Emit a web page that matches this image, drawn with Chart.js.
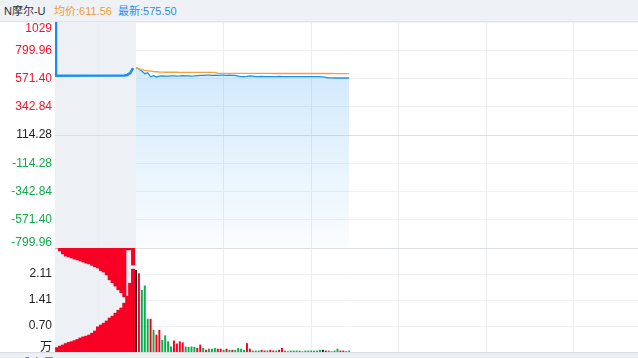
<!DOCTYPE html>
<html>
<head>
<meta charset="utf-8">
<title>N摩尔-U 分时</title>
<script src="https://cdn.jsdelivr.net/npm/chart.js"></script>
<style>
body {
  margin: 0;
  width: 638px;
  height: 358px;
  overflow: hidden;
  position: relative;
  background: #fff;
  font-family: "Liberation Sans", Arial, "Noto Sans CJK SC", sans-serif;
}
.head {
  position: absolute;
  left: 0; top: 0;
  width: 638px; height: 21px;
  background: #eef1f5;
  border-bottom: 1px solid #dfe4ea;
  font-size: 11px;
  line-height: 22px;
  white-space: nowrap;
}
.head span { position: absolute; top: 0; }
.foot {
  position: absolute;
  left: 0; top: 352px;
  width: 638px; height: 6px;
  background: #edf0f3;
  border-top: 1px solid #dadee3;
  overflow: hidden;
  font-size: 12px;
  color: #333;
}
.foot span { position: absolute; left: 19px; top: 1px; }
#c { position: absolute; left: 0; top: 22px; }
</style>
</head>
<body>
<div class="head">
  <span style="left:4px;color:#333">N摩尔-U</span>
  <span style="left:54px;color:#f39b2f">均价:611.56</span>
  <span style="left:118px;color:#2a8ef0">最新:575.50</span>
</div>
<canvas id="c" width="638" height="330"></canvas>
<div class="foot"><span>成交量</span></div>

<script>
// 价格轴 (以发行价 114.28 为中线)
const basePrice = 114.28;
const priceTicks = [1028.52, 799.96, 571.40, 342.84, 114.28, -114.28, -342.84, -571.40, -799.96];
const priceTickLabels = ['1029', '799.96', '571.40', '342.84', '114.28', '-114.28', '-342.84', '-571.40', '-799.96'];

// 成交量轴 (万)
const volMax = 2.812;
const volTicks = [2.109, 1.406, 0.703];
const volTickLabels = ['2.11', '1.41', '0.70'];

// 时间轴: 0 = 9:30 开盘, 单位分钟; 负数为集合竞价
const xMin = -27.74;
const xMax = 171.92;
const xGridLines = [-13, 30, 60, 90, 120, 150];

// 集合竞价
const prePriceTimes = [-27.6, -27.4, -4, -3, -2, -1];
const prePrice = [1028.52, 594, 596, 600, 615, 656];
const preSlots = [-27, -26, -25, -24, -23, -22, -21, -20, -19, -18, -17, -16, -15, -14,
                  -13, -12, -11, -10, -9, -8, -7, -6, -5, -4, -3, -2, -1];
const preMatched = [0.12, 0.16, 0.19, 0.23, 0.26, 0.28, 0.31, 0.34, 0.38, 0.41, 0.43, 0.46, 0.51, 0.57,
                    0.68, 0.73, 0.78, 0.84, 0.92, 0.97, 1.05, 1.13, 1.19, 1.32, 1.51, 1.86, 2.24];
const preUnmatched = [0, 0.08, 0.16, 0.22, 0.24, 0.27, 0.30, 0.32, 0.35, 0.38, 0.41, 0.43, 0.47, 0.51,
                      0.54, 0.61, 0.65, 0.73, 0.86, 0.94, 1.03, 1.13, 1.21, 1.32, 0.05, 0.05, 0.46];

// 连续竞价 (每分钟)
const tradePrice = [659, 648, 632, 610, 618, 585, 594, 584, 590, 592,
                    591, 590, 592, 593, 591, 592, 594, 593, 592, 591,
                    592, 594, 596, 597, 598, 598, 597, 598, 597, 598,
                    598, 597, 598, 597, 596, 590, 587, 587, 588, 592,
                    591, 587, 587, 588, 587, 587, 586, 587, 587, 588,
                    587, 587, 586, 587, 587, 587, 586, 587, 587, 587,
                    587, 586, 587, 586, 584, 580, 576, 576, 575.5, 575.5,
                    575.5, 575.5, 575.5, 575.5];
const avgPrice = [659, 650, 643, 638, 634, 631, 628, 626, 624, 623,
                  622, 622, 622, 622, 622, 621.5, 621.5, 621.5, 621.5, 621.5,
                  621.5, 621.5, 621.5, 621.5, 621.5, 621.5, 621.5, 621, 614, 613.5,
                  613.5, 613.5, 613.5, 613.5, 613, 613, 613, 613, 613, 613,
                  613, 612.5, 612.5, 612.5, 612.5, 612.5, 612.5, 612, 612, 612,
                  612, 612, 612, 612, 612, 612, 612, 612, 612, 612,
                  612, 612, 611.8, 611.8, 611.8, 611.8, 611.7, 611.7, 611.6, 611.6,
                  611.6, 611.6, 611.56, 611.56];
const tradeVol = [2.21, 2.12, 1.67, 1.79, 0.89, 0.89, 0.59, 0.46, 0.59, 0.32,
                  0.44, 0.28, 0.14, 0.30, 0.22, 0.28, 0.25, 0.14, 0.13, 0.14,
                  0.13, 0.10, 0.19, 0.10, 0.05, 0.08, 0.08, 0.10, 0.08, 0.08,
                  0.05, 0.08, 0.05, 0.05, 0.05, 0.10, 0.08, 0.05, 0.23, 0.08,
                  0.03, 0.03, 0.03, 0.05, 0.03, 0.03, 0.05, 0.03, 0.03, 0.05,
                  0.10, 0.03, 0.01, 0.03, 0.03, 0.03, 0.03, 0.01, 0.03, 0.03,
                  0.03, 0.03, 0.03, 0.05, 0.05, 0.03, 0.03, 0.01, 0.03, 0.08,
                  0.03, 0.03, 0.01, 0.03];
// 1 = 上涨(红), -1 = 下跌(绿), 0 = 平(黑)
const tradeDir = [0, 1, -1, -1, -1, 1, -1, 1, 1, -1,
                  -1, -1, -1, 1, 1, 1, 1, -1, -1, -1,
                  -1, 1, 1, -1, 1, -1, -1, -1, 1, 1,
                  -1, 1, -1, 1, -1, -1, -1, -1, 1, 1,
                  -1, -1, -1, 1, 1, -1, 1, 1, -1, 1,
                  1, -1, 1, -1, -1, -1, -1, -1, -1, -1,
                  -1, -1, -1, -1, 0, 1, -1, -1, -1, -1,
                  1, 1, 1, -1];
const tradeSlots = tradePrice.map((_, i) => i);

const RED = '#f70024';
const GREEN = '#08ad4c';
const BLUE = '#1e8ff0';
const ORANGE = '#f5a23a';
const PRE_BG = '#edf1f5';

const dirColor = d => d > 0 ? RED : (d < 0 ? GREEN : '#1a1a1a');

// 集合竞价区域背景
const preBackground = {
  id: 'preBackground',
  beforeDraw(chart) {
    const area = chart.chartArea;
    const x0 = chart.scales.x.getPixelForValue(0);
    const c = chart.ctx;
    c.save();
    c.fillStyle = PRE_BG;
    c.fillRect(area.left, area.top, x0 - area.left, area.bottom - area.top);
    c.restore();
  }
};

// 左侧刻度文字
const axisLabels = {
  id: 'axisLabels',
  afterDraw(chart) {
    const c = chart.ctx;
    const ys = chart.scales.y;
    const vs = chart.scales.v;
    c.save();
    c.font = '12px "Liberation Sans", Arial, sans-serif';
    c.textAlign = 'right';
    c.textBaseline = 'middle';
    priceTicks.forEach((v, i) => {
      let y = ys.getPixelForValue(v);
      y = Math.min(Math.max(y, ys.top + 7), ys.bottom - 5);
      c.fillStyle = v > basePrice + 0.01 ? '#f0132f' : (v < basePrice - 0.01 ? '#10a94b' : '#222');
      c.fillText(priceTickLabels[i], 52, y);
    });
    c.fillStyle = '#222';
    volTicks.forEach((v, i) => {
      c.fillText(volTickLabels[i], 52, vs.getPixelForValue(v));
    });
    c.font = '12px "Noto Sans CJK SC", sans-serif';
    c.fillText('万', 52, vs.bottom - 6);
    c.restore();
  }
};

function areaGradient(context) {
  const chart = context.chart;
  const ys = chart.scales.y;
  if (!chart.chartArea || !ys || !isFinite(ys.bottom)) return 'rgba(30,150,240,0.1)';
  const top = ys.getPixelForValue(640);
  if (!isFinite(top)) return 'rgba(30,150,240,0.1)';
  const g = chart.ctx.createLinearGradient(0, top, 0, ys.bottom);
  g.addColorStop(0, 'rgba(30,150,240,0.20)');
  g.addColorStop(1, 'rgba(30,150,240,0.02)');
  return g;
}

new Chart(document.getElementById('c'), {
  type: 'line',
  data: {
    datasets: [
      {
        type: 'line',
        data: tradeSlots.map((t, i) => ({ x: t, y: avgPrice[i] })),
        yAxisID: 'y',
        borderColor: ORANGE,
        borderWidth: 1.3,
        pointRadius: 0,
        tension: 0,
        order: 1
      },
      {
        type: 'line',
        data: tradeSlots.map((t, i) => ({ x: t, y: tradePrice[i] })),
        yAxisID: 'y',
        borderColor: BLUE,
        borderWidth: 1.3,
        backgroundColor: areaGradient,
        fill: 'start',
        pointRadius: 0,
        tension: 0,
        order: 2
      },
      {
        type: 'line',
        data: prePriceTimes.map((t, i) => ({ x: t, y: prePrice[i] })),
        yAxisID: 'y',
        borderColor: BLUE,
        borderWidth: 2.6,
        pointRadius: 0,
        tension: 0,
        order: 0
      },
      {
        type: 'bar',
        data: preSlots.map((t, i) => ({ x: t, y: preMatched[i] })),
        yAxisID: 'v',
        backgroundColor: RED,
        barThickness: 3.4,
        grouped: false,
        order: 3
      },
      {
        type: 'bar',
        data: preSlots.map((t, i) => ({ x: t, y: [volMax - preUnmatched[i], volMax] })),
        yAxisID: 'v',
        backgroundColor: RED,
        barThickness: 3.4,
        grouped: false,
        order: 3
      },
      {
        type: 'bar',
        data: tradeSlots.map((t, i) => ({ x: t, y: tradeVol[i] })),
        yAxisID: 'v',
        backgroundColor: tradeDir.map(dirColor),
        barThickness: 1.3,
        grouped: false,
        order: 3
      }
    ]
  },
  options: {
    responsive: false,
    animation: false,
    devicePixelRatio: 1,
    layout: { padding: 0 },
    plugins: {
      legend: { display: false },
      tooltip: { enabled: false }
    },
    scales: {
      x: {
        type: 'linear',
        min: xMin,
        max: xMax,
        offset: false,
        ticks: { display: false },
        grid: { drawTicks: false, color: '#ebedf0', offset: false },
        border: { display: false },
        afterBuildTicks: s => { s.ticks = xGridLines.map(v => ({ value: v })); }
      },
      // 成交量在下 (stack 中后放置的在上方, 故先定义)
      v: {
        type: 'linear',
        position: 'left',
        stack: 'main',
        stackWeight: 104,
        min: 0,
        max: volMax,
        ticks: { display: false },
        grid: { drawTicks: false, color: '#eef0f2' },
        border: { display: false },
        afterBuildTicks: s => { s.ticks = volTicks.map(v => ({ value: v })); },
        afterFit: s => { s.width = 55; }
      },
      y: {
        type: 'linear',
        position: 'left',
        stack: 'main',
        stackWeight: 226,
        min: priceTicks[priceTicks.length - 1],
        max: priceTicks[0],
        ticks: { display: false },
        grid: {
          drawTicks: false,
          color: c => (c.tick && (Math.abs(c.tick.value - basePrice) < 0.01 || c.tick.value === priceTicks[priceTicks.length - 1])) ? '#dcdfe3' : '#eef0f2'
        },
        border: { display: false },
        afterBuildTicks: s => { s.ticks = priceTicks.map(v => ({ value: v })); },
        afterFit: s => { s.width = 55; }
      }
    }
  },
  plugins: [preBackground, axisLabels]
});
</script>
</body>
</html>
